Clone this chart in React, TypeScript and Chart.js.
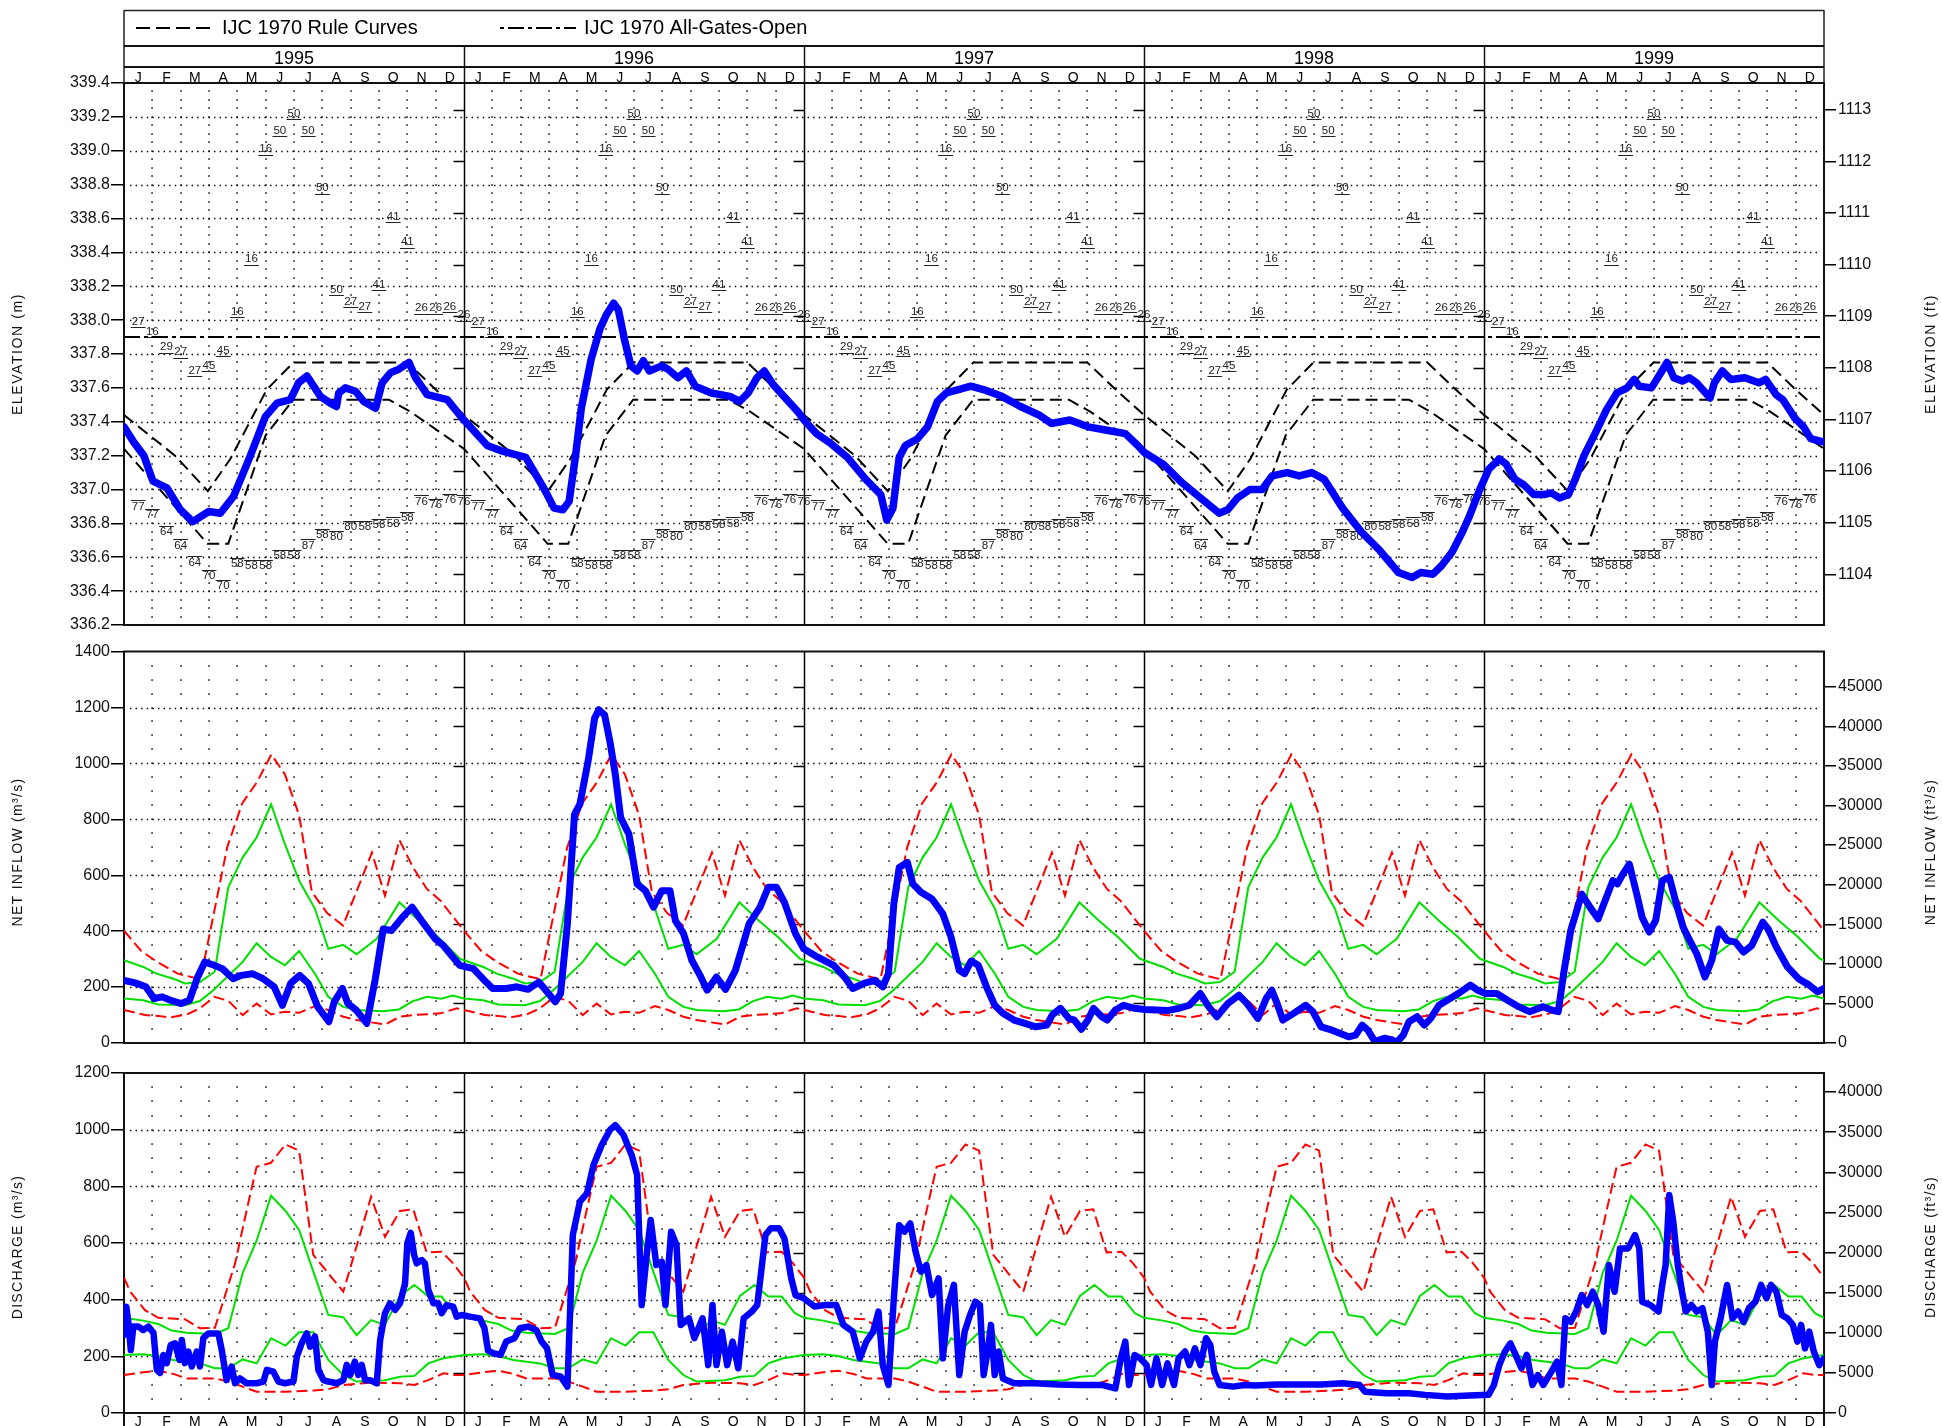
import React, { useEffect, useRef } from 'react';
import { Chart, registerables } from 'chart.js';

Chart.register(...registerables);

const FONT = '"Liberation Sans", Arial, Helvetica, sans-serif';
const W = 1942;

// ---------- categories / labels ----------
const years = ['1995', '1996', '1997', '1998', '1999'];
const monthLetters = ['J', 'F', 'M', 'A', 'M', 'J', 'J', 'A', 'S', 'O', 'N', 'D'];

const M_TO_FT = 3.28084;
const CMS_TO_CFS = 35.3147;

// ---------- tick labels ----------
const elevTicksM = [336.2, 336.4, 336.6, 336.8, 337.0, 337.2, 337.4, 337.6, 337.8, 338.0, 338.2, 338.4, 338.6, 338.8, 339.0, 339.2, 339.4];
const elevTicksFt = [1104, 1105, 1106, 1107, 1108, 1109, 1110, 1111, 1112, 1113];
const inflowTicks = [0, 200, 400, 600, 800, 1000, 1200, 1400];
const inflowTicksFt = [0, 5000, 10000, 15000, 20000, 25000, 30000, 35000, 40000, 45000];
const dischargeTicks = [0, 200, 400, 600, 800, 1000, 1200];
const dischargeTicksFt = [0, 5000, 10000, 15000, 20000, 25000, 30000, 35000, 40000];

// ---------- IJC 1970 rule curves (one year, month-of-year, m) ----------
const ruleUpper = [[0, 337.44], [1.8, 337.2], [2.96, 336.99], [3.75, 337.18], [5.04, 337.59], [5.98, 337.75], [10.0, 337.75], [11.0, 337.59], [12, 337.44]];
const ruleLower = [[0, 337.24], [2.95, 336.68], [3.68, 336.68], [5.0, 337.32], [5.97, 337.53], [9.35, 337.53], [10.1, 337.46], [12, 337.24]];
const allGatesOpen = [[0, 337.9], [60, 337.9]];

// ---------- quarter-month codes on elevation panel ----------
const upperCodes = ['27', '16', '29', '27', '27', '45', '45', '16', '16', '16', '50', '50', '50', '50', '50', '27', '27', '41', '41', '41', '26', '26', '26', '26'];
const upperLevels = [337.99, 337.93, 337.84, 337.81, 337.7, 337.73, 337.82, 338.05, 338.36, 339.01, 339.12, 339.22, 339.12, 338.78, 338.18, 338.11, 338.08, 338.21, 338.61, 338.46, 338.07, 338.07, 338.08, 338.03];
const lowerCodes = ['77', '77', '64', '64', '64', '70', '70', '58', '58', '58', '58', '58', '87', '58', '80', '80', '58', '58', '58', '58', '76', '76', '76', '76'];
const lowerLevels = [336.9, 336.85, 336.75, 336.67, 336.57, 336.49, 336.43, 336.56, 336.55, 336.55, 336.61, 336.61, 336.67, 336.73, 336.72, 336.78, 336.78, 336.79, 336.8, 336.83, 336.93, 336.91, 336.94, 336.93];

// ---------- observed elevation (month-of-year, m) ----------
const elev1995 = [[0, 337.37], [0.34, 337.28], [0.7, 337.2], [1.02, 337.05], [1.51, 337.01], [1.99, 336.88], [2.43, 336.81], [2.99, 336.87], [3.4, 336.86], [3.87, 336.96], [4.46, 337.2], [4.99, 337.43], [5.4, 337.51], [5.87, 337.53], [6.16, 337.63], [6.46, 337.67], [6.93, 337.55], [7.28, 337.51], [7.5, 337.49], [7.58, 337.57], [7.81, 337.6], [8.17, 337.58], [8.46, 337.52], [8.88, 337.48], [9.11, 337.63], [9.41, 337.69], [9.7, 337.71], [10.06, 337.75], [10.29, 337.66], [10.7, 337.56], [11.41, 337.53], [11.7, 337.47]];
const elev1996 = [[0, 337.41], [0.82, 337.26], [1.29, 337.23], [2.18, 337.19], [2.84, 337.0], [3.18, 336.89], [3.49, 336.88], [3.71, 336.93], [3.93, 337.19], [4.14, 337.48], [4.49, 337.77], [4.8, 337.95], [5.02, 338.03], [5.28, 338.1], [5.45, 338.06], [5.67, 337.88], [5.89, 337.73], [6.11, 337.7], [6.33, 337.76], [6.54, 337.7], [6.98, 337.73], [7.2, 337.71], [7.55, 337.66], [7.85, 337.7], [8.16, 337.61], [8.73, 337.57], [9.38, 337.55], [9.73, 337.52], [10.03, 337.57], [10.34, 337.66], [10.6, 337.7], [10.91, 337.62], [11.34, 337.54], [11.78, 337.46]];
const elev1997 = [[0, 337.41], [0.44, 337.33], [0.96, 337.27], [1.53, 337.19], [2.18, 337.06], [2.71, 336.97], [2.92, 336.82], [3.14, 336.89], [3.36, 337.19], [3.58, 337.26], [4.01, 337.3], [4.36, 337.37], [4.71, 337.52], [5.02, 337.57], [5.45, 337.59], [5.89, 337.61], [6.33, 337.59], [6.98, 337.55], [7.64, 337.49], [8.29, 337.44], [8.73, 337.39], [9.38, 337.41], [10.03, 337.37], [10.69, 337.35], [11.34, 337.33], [11.78, 337.26]];
const elev1998 = [[0, 337.22], [0.68, 337.15], [1.34, 337.04], [1.99, 336.95], [2.65, 336.86], [2.95, 336.88], [3.3, 336.95], [3.74, 337.0], [4.17, 337.0], [4.52, 337.08], [5.05, 337.1], [5.48, 337.08], [5.92, 337.1], [6.36, 337.06], [7.01, 336.89], [7.67, 336.75], [8.32, 336.64], [8.98, 336.51], [9.46, 336.48], [9.77, 336.51], [10.2, 336.5], [10.5, 336.55], [10.87, 336.63], [11.24, 336.75], [11.48, 336.84], [11.85, 337.0]];
const elev1999 = [[0.17, 337.12], [0.54, 337.18], [0.78, 337.15], [1.09, 337.06], [1.39, 337.03], [1.76, 336.97], [2.12, 336.97], [2.37, 336.98], [2.67, 336.95], [2.98, 336.97], [3.22, 337.06], [3.53, 337.2], [3.95, 337.34], [4.32, 337.47], [4.69, 337.57], [5.05, 337.6], [5.3, 337.65], [5.48, 337.61], [5.91, 337.6], [6.21, 337.68], [6.46, 337.75], [6.7, 337.66], [7.0, 337.64], [7.25, 337.66], [7.5, 337.63], [7.98, 337.54], [8.13, 337.63], [8.41, 337.7], [8.71, 337.65], [9.21, 337.66], [9.7, 337.63], [9.94, 337.65], [10.31, 337.56], [10.55, 337.53], [10.98, 337.42], [11.28, 337.37], [11.53, 337.3], [12, 337.28]];

// ---------- net inflow statistics (one year, m3/s) ----------
const inflowMax = [[0, 402], [0.6, 330], [1.17, 290], [1.9, 248], [2.7, 228], [3.64, 699], [4.17, 857], [4.7, 934], [5.2, 1032], [5.68, 961], [6.18, 815], [6.63, 540], [7.17, 465], [7.73, 420], [8.75, 681], [9.21, 527], [9.72, 726], [10.2, 628], [10.69, 551], [11.17, 509], [12, 402]];
const inflowUpper = [[0, 296], [0.68, 272], [1.15, 248], [1.74, 230], [2.15, 213], [2.68, 218], [3.2, 255], [3.68, 557], [4.19, 664], [4.68, 735], [5.19, 854], [5.68, 711], [6.18, 581], [6.74, 480], [7.21, 337], [7.74, 351], [8.21, 317], [8.92, 373], [9.72, 503], [10.4, 438], [11.08, 379], [11.85, 302], [12, 296]];
const inflowLower = [[0, 159], [0.68, 153], [1.21, 138], [2.15, 135], [2.68, 150], [3.15, 189], [4.19, 290], [4.68, 357], [5.19, 308], [5.68, 278], [6.18, 329], [6.74, 248], [7.21, 165], [7.74, 129], [8.21, 118], [9.15, 114], [9.7, 120], [10.2, 150], [10.7, 165], [11.2, 158], [11.6, 170], [12, 159]];
const inflowMin = [[0, 118], [0.74, 100], [1.21, 97], [1.62, 91], [2.21, 102], [2.68, 124], [3.19, 165], [3.68, 151], [4.19, 100], [4.68, 141], [5.19, 102], [5.68, 112], [6.18, 108], [6.74, 132], [7.21, 118], [7.74, 94], [8.21, 82], [9.21, 66], [9.74, 94], [10.2, 100], [11.17, 106], [11.75, 124], [12, 118]];

// ---------- observed net inflow (month-of-year, m3/s) ----------
const inflow1995 = [[0, 224], [0.39, 215], [0.77, 201], [1.06, 159], [1.35, 165], [1.64, 153], [2.02, 141], [2.31, 153], [2.6, 236], [2.85, 290], [3.18, 278], [3.47, 266], [3.85, 230], [4.14, 242], [4.53, 248], [4.91, 230], [5.3, 201], [5.59, 135], [5.88, 213], [6.2, 242], [6.51, 213], [6.84, 129], [7.23, 76], [7.42, 147], [7.71, 195], [7.9, 141], [8.19, 118], [8.57, 70], [8.86, 224], [9.15, 408], [9.44, 402], [9.83, 450], [10.17, 486], [10.5, 438], [10.98, 373], [11.27, 349], [11.56, 313], [11.85, 278]];
const inflow1996 = [[0.33, 266], [0.72, 224], [1.01, 195], [1.49, 195], [1.87, 201], [2.26, 192], [2.64, 218], [2.93, 183], [3.22, 147], [3.41, 177], [3.65, 426], [3.9, 818], [4.09, 854], [4.38, 1008], [4.61, 1162], [4.76, 1192], [4.96, 1174], [5.15, 1079], [5.34, 961], [5.53, 806], [5.82, 747], [6.11, 569], [6.4, 545], [6.69, 486], [6.98, 545], [7.27, 545], [7.46, 438], [7.75, 391], [8.04, 296], [8.33, 242], [8.58, 189], [8.91, 236], [9.23, 192], [9.58, 260], [10.06, 426], [10.45, 486], [10.74, 557], [11.03, 557], [11.31, 503], [11.7, 391], [11.99, 337]];
const inflow1997 = [[0.47, 308], [1.05, 278], [1.43, 236], [1.72, 195], [2.11, 213], [2.49, 224], [2.78, 201], [2.98, 248], [3.17, 497], [3.36, 628], [3.65, 646], [3.84, 569], [4.13, 539], [4.52, 515], [4.9, 462], [5.19, 379], [5.48, 260], [5.67, 248], [5.9, 293], [6.15, 278], [6.44, 201], [6.73, 135], [7.02, 106], [7.41, 82], [7.8, 70], [8.18, 58], [8.57, 64], [8.76, 100], [9.05, 124], [9.35, 88], [9.54, 82], [9.79, 49], [10.02, 82], [10.22, 124], [10.51, 94], [10.7, 82], [10.99, 118], [11.28, 135], [11.67, 124]];
const inflow1998 = [[0.02, 120], [0.44, 118], [0.83, 116], [1.22, 124], [1.6, 135], [1.99, 177], [2.28, 130], [2.57, 94], [2.96, 141], [3.35, 171], [3.64, 141], [4.02, 88], [4.31, 159], [4.51, 189], [4.7, 141], [4.9, 82], [5.28, 106], [5.71, 135], [5.96, 112], [6.25, 58], [6.64, 46], [7.22, 22], [7.47, 28], [7.7, 64], [7.9, 46], [8.15, 5], [8.48, 17], [8.77, 11], [8.92, 2], [9.15, 28], [9.35, 76], [9.64, 94], [9.89, 64], [10.12, 88], [10.41, 135], [10.7, 153], [11.09, 177], [11.52, 207], [11.77, 189]];
const inflow1999 = [[0.06, 177], [0.45, 177], [0.83, 153], [1.22, 130], [1.61, 112], [2.09, 130], [2.38, 118], [2.62, 112], [2.81, 248], [3.06, 402], [3.45, 533], [3.74, 486], [4.03, 444], [4.32, 521], [4.55, 581], [4.71, 569], [4.9, 604], [5.13, 640], [5.39, 533], [5.58, 450], [5.83, 397], [6.06, 438], [6.29, 581], [6.54, 593], [6.79, 497], [7.03, 414], [7.26, 367], [7.51, 319], [7.8, 236], [8.04, 296], [8.29, 408], [8.58, 367], [8.87, 361], [9.16, 325], [9.45, 349], [9.84, 432], [10.03, 408], [10.32, 343], [10.71, 272], [11.1, 230], [11.48, 207], [11.77, 183], [12, 195]];

// ---------- discharge statistics (one year, m3/s) ----------
const dischargeMax = [[0, 478], [0.22, 428], [0.74, 363], [1.21, 336], [2.15, 331], [2.68, 299], [3.21, 301], [3.92, 528], [4.33, 716], [4.68, 869], [5.19, 883], [5.7, 948], [6.18, 926], [6.68, 558], [7.21, 493], [7.74, 428], [8.72, 763], [9.21, 622], [9.74, 713], [10.21, 719], [10.68, 567], [11.21, 569], [11.6, 530], [12, 478]];
const dischargeUpper = [[0, 336], [0.68, 326], [1.21, 314], [1.68, 291], [2.21, 283], [3.21, 279], [3.68, 299], [4.19, 495], [4.68, 608], [5.19, 767], [5.7, 713], [6.18, 646], [6.68, 500], [7.21, 346], [7.74, 338], [8.21, 275], [8.72, 328], [9.21, 311], [9.74, 413], [10.25, 452], [10.74, 411], [11.21, 411], [11.68, 352], [12, 336]];
const dischargeLower = [[0, 205], [0.68, 207], [1.21, 201], [1.74, 187], [2.68, 175], [3.21, 158], [3.68, 158], [4.19, 189], [4.68, 175], [5.19, 264], [5.7, 238], [6.18, 285], [6.68, 285], [7.21, 187], [7.74, 134], [8.21, 111], [9.21, 116], [9.74, 128], [10.25, 131], [10.74, 175], [11.27, 193], [12, 205]];
const dischargeMin = [[0, 134], [0.68, 144], [1.21, 149], [1.74, 138], [2.21, 122], [3.21, 122], [3.68, 111], [4.19, 93], [4.68, 75], [5.7, 75], [6.68, 79], [7.21, 84], [7.74, 99], [8.72, 107], [9.74, 105], [10.25, 99], [10.74, 116], [11.27, 140], [11.68, 134], [12, 134]];

// ---------- observed discharge (month-of-year, m3/s) ----------
const discharge1995 = [[0, 275], [0.08, 375], [0.16, 316], [0.24, 222], [0.33, 305], [0.51, 305], [0.68, 293], [0.86, 305], [1.04, 283], [1.16, 152], [1.27, 141], [1.39, 205], [1.51, 176], [1.65, 240], [1.8, 246], [1.96, 187], [2.04, 258], [2.15, 176], [2.27, 217], [2.39, 164], [2.57, 217], [2.68, 164], [2.8, 264], [2.98, 281], [3.15, 281], [3.33, 281], [3.45, 222], [3.62, 116], [3.8, 164], [3.92, 105], [4.09, 122], [4.33, 105], [4.68, 105], [4.92, 111], [5.04, 152], [5.27, 146], [5.45, 111], [5.68, 105], [5.98, 111], [6.1, 199], [6.27, 246], [6.45, 281], [6.57, 234], [6.74, 270], [6.86, 152], [7.04, 116], [7.21, 111], [7.51, 105], [7.74, 116], [7.86, 170], [7.98, 134], [8.15, 181], [8.27, 134], [8.39, 170], [8.51, 116], [8.68, 116], [8.92, 105], [9.04, 258], [9.21, 352], [9.39, 387], [9.57, 364], [9.74, 387], [9.92, 458], [10.0, 599], [10.12, 636], [10.24, 558], [10.33, 528], [10.51, 540], [10.62, 528], [10.74, 434], [10.92, 387], [11.09, 387], [11.21, 352], [11.39, 381], [11.62, 375], [11.74, 340], [11.92, 346]];
const discharge1996 = [[0.21, 340], [0.56, 334], [0.72, 300], [0.85, 220], [1.03, 211], [1.29, 205], [1.49, 252], [1.78, 264], [1.97, 299], [2.26, 305], [2.55, 293], [2.74, 252], [2.93, 229], [3.13, 134], [3.41, 129], [3.65, 93], [3.84, 628], [4.09, 746], [4.34, 775], [4.57, 875], [4.86, 946], [5.15, 999], [5.34, 1016], [5.63, 981], [5.92, 910], [6.11, 840], [6.27, 381], [6.46, 569], [6.59, 681], [6.79, 522], [6.98, 534], [7.11, 381], [7.31, 640], [7.5, 593], [7.65, 311], [7.94, 334], [8.13, 264], [8.42, 334], [8.62, 169], [8.77, 381], [8.91, 169], [9.1, 287], [9.29, 169], [9.48, 252], [9.68, 158], [9.87, 334], [10.16, 358], [10.35, 381], [10.64, 628], [10.83, 652], [11.12, 652], [11.31, 616], [11.55, 475], [11.7, 416], [11.99, 405]];
const discharge1997 = [[0.37, 376], [0.76, 381], [1.14, 381], [1.39, 311], [1.72, 287], [1.97, 193], [2.2, 252], [2.44, 287], [2.63, 358], [2.78, 169], [2.98, 99], [3.17, 405], [3.36, 663], [3.55, 640], [3.75, 669], [3.94, 569], [4.13, 499], [4.32, 522], [4.52, 416], [4.75, 475], [4.9, 193], [5.09, 381], [5.29, 452], [5.48, 134], [5.67, 287], [5.86, 346], [6.05, 393], [6.21, 381], [6.34, 134], [6.48, 217], [6.6, 311], [6.73, 134], [6.87, 217], [7.02, 122], [7.41, 105], [8.18, 105], [8.96, 101], [9.73, 99], [10.51, 99], [10.99, 87], [11.18, 193], [11.34, 252], [11.47, 99], [11.67, 205], [11.86, 193]];
const discharge1998 = [[0.09, 169], [0.25, 99], [0.44, 193], [0.64, 99], [0.83, 175], [1.06, 99], [1.22, 193], [1.45, 217], [1.6, 169], [1.8, 228], [1.99, 169], [2.19, 264], [2.34, 240], [2.48, 146], [2.67, 99], [3.15, 93], [3.54, 99], [3.93, 97], [4.7, 101], [5.48, 101], [6.25, 101], [7.03, 105], [7.61, 99], [7.8, 75], [8.57, 70], [9.35, 70], [9.93, 64], [10.7, 58], [11.48, 62]];
const discharge1999 = [[0.16, 64], [0.35, 99], [0.54, 169], [0.74, 217], [0.93, 246], [1.12, 205], [1.32, 158], [1.51, 205], [1.71, 99], [1.9, 134], [2.09, 99], [2.38, 146], [2.58, 181], [2.73, 99], [2.87, 334], [3.06, 322], [3.25, 358], [3.45, 416], [3.64, 381], [3.84, 428], [4.03, 381], [4.22, 287], [4.41, 522], [4.61, 428], [4.8, 581], [5.09, 581], [5.33, 628], [5.48, 581], [5.58, 393], [5.87, 381], [6.16, 358], [6.29, 452], [6.41, 522], [6.54, 769], [6.68, 675], [6.84, 522], [6.99, 428], [7.12, 358], [7.32, 381], [7.51, 358], [7.71, 370], [7.9, 287], [8.04, 99], [8.15, 252], [8.35, 334], [8.58, 452], [8.77, 334], [8.97, 358], [9.16, 322], [9.35, 370], [9.58, 393], [9.78, 452], [9.97, 405], [10.13, 452], [10.32, 428], [10.51, 346], [10.71, 334], [10.9, 311], [11.06, 252], [11.19, 311], [11.33, 228], [11.48, 287], [11.64, 217], [11.83, 169], [12, 193]];

// ---------- helpers ----------
type Pt = number[];
function repeatAnnual(annual: Pt[]) {
  const out: { x: number; y: number }[] = [];
  years.forEach((_, i) => annual.forEach(([m, v]) => out.push({ x: i * 12 + m, y: v })));
  return out;
}
function joinYears(parts: Pt[][]) {
  const out: { x: number; y: number }[] = [];
  parts.forEach((arr, i) => arr.forEach(([m, v]) => out.push({ x: i * 12 + m, y: v })));
  return out;
}
function toXY(arr: Pt[]) {
  return arr.map(([x, y]) => ({ x, y }));
}
const blueLine = (data: any[], w: number) => ({
  data, borderColor: '#0000ff', borderWidth: w, borderJoinStyle: 'round', borderCapStyle: 'round',
  pointRadius: 0, fill: false, order: 0,
});
const styledLine = (data: any[], color: string, dash: number[], w = 2) => ({
  data, borderColor: color, borderWidth: w, borderDash: dash, pointRadius: 0, fill: false, order: 1,
});
const RED = '#ff0000';
const GREEN = '#00e000';

function drawVTitle(ctx: CanvasRenderingContext2D, text: string, x: number, y: number, spacing: string) {
  ctx.save();
  ctx.translate(x, y);
  ctx.rotate(-Math.PI / 2);
  ctx.font = `14px ${FONT}`;
  ctx.fillStyle = '#111';
  ctx.textAlign = 'center';
  ctx.textBaseline = 'middle';
  (ctx as any).letterSpacing = spacing;
  ctx.fillText(text, 0, 0);
  ctx.restore();
}

type PanelSpec = {
  key: string; top: number; height: number; pad: { top: number; bottom: number };
  min: number; max: number; minor: number; ticks: number[]; ticksR: number[]; conv: number;
  leftTitle: string; rightTitle: string; titleY: number; spacing: string;
  fmt: (v: number) => string; datasets: any[]; header?: boolean; footer?: boolean; codes?: boolean;
};

function decorPlugin(p: PanelSpec) {
  return {
    id: 'decor_' + p.key,
    beforeDatasetsDraw(chart: any) {
      const { ctx, chartArea: a, scales } = chart;
      const xs = scales.x, ys = scales.y, y2 = scales.y2;
      ctx.save();
      // horizontal dotted grid lines
      ctx.strokeStyle = '#000';
      ctx.lineWidth = 1.4;
      ctx.setLineDash([1.4, 4.2]);
      p.ticks.forEach((v) => {
        if (v <= p.min + 1e-9 || v >= p.max - 1e-9) return;
        const y = Math.round(ys.getPixelForValue(v)) + 0.5;
        ctx.beginPath();
        ctx.moveTo(a.left + 6, y);
        ctx.lineTo(a.right - 4, y);
        ctx.stroke();
      });
      ctx.setLineDash([]);
      // vertical dotted month boundaries
      ctx.fillStyle = '#000';
      const n = Math.round((p.max - p.min) / p.minor);
      for (let m = 1; m < 60; m++) {
        if (m % 12 === 0) continue;
        const x = Math.round(xs.getPixelForValue(m));
        for (let k = 1; k < n; k++) {
          const y = Math.round(ys.getPixelForValue(p.min + k * p.minor));
          ctx.fillRect(x - 0.7, y - 0.7, 1.5, 1.5);
        }
      }
      // year separators + inner right-axis ticks
      ctx.strokeStyle = '#000';
      ctx.lineWidth = 1.5;
      for (let i = 1; i < 5; i++) {
        const x = Math.round(xs.getPixelForValue(12 * i)) + 0.5;
        ctx.beginPath();
        ctx.moveTo(x, a.top);
        ctx.lineTo(x, p.footer ? chart.height : a.bottom);
        ctx.stroke();
        p.ticksR.forEach((v) => {
          const y = Math.round(y2.getPixelForValue(v)) + 0.5;
          if (y <= a.top + 2 || y >= a.bottom - 2) return;
          ctx.beginPath();
          ctx.moveTo(x - 11, y);
          ctx.lineTo(x, y);
          ctx.stroke();
        });
      }
      // quarter-month code labels
      if (p.codes) {
        ctx.font = `11.5px ${FONT}`;
        ctx.fillStyle = '#222';
        ctx.strokeStyle = '#222';
        ctx.lineWidth = 1;
        ctx.textAlign = 'center';
        ctx.textBaseline = 'middle';
        years.forEach((_, yi) => {
          for (let k = 0; k < 24; k++) {
            const m = yi * 12 + (k + 1) * 0.5;
            if (m >= 60) continue;
            const x = xs.getPixelForValue(m);
            const w = ctx.measureText(upperCodes[k]).width;
            const yu = ys.getPixelForValue(upperLevels[k]);
            ctx.fillText(upperCodes[k], x, yu);
            ctx.beginPath();
            ctx.moveTo(x - w / 2 - 1, Math.round(yu + 5.5) + 0.5);
            ctx.lineTo(x + w / 2 + 1, Math.round(yu + 5.5) + 0.5);
            ctx.stroke();
            const wl = ctx.measureText(lowerCodes[k]).width;
            const yl = ys.getPixelForValue(lowerLevels[k]);
            ctx.fillText(lowerCodes[k], x, yl);
            ctx.beginPath();
            ctx.moveTo(x - wl / 2 - 1, Math.round(yl - 6) + 0.5);
            ctx.lineTo(x + wl / 2 + 1, Math.round(yl - 6) + 0.5);
            ctx.stroke();
          }
        });
      }
      ctx.restore();
    },
    afterDraw(chart: any) {
      const { ctx, chartArea: a, scales } = chart;
      const xs = scales.x;
      ctx.save();
      ctx.strokeStyle = '#111';
      ctx.lineWidth = 2;
      // top & bottom borders
      [a.top, a.bottom].forEach((y: number) => {
        ctx.beginPath();
        ctx.moveTo(a.left - 1, y);
        ctx.lineTo(a.right + 1, y);
        ctx.stroke();
      });
      // titles
      drawVTitle(ctx, p.leftTitle, 18, p.titleY, p.spacing);
      drawVTitle(ctx, p.rightTitle, 1931, p.titleY, p.spacing);

      if (p.header) {
        const L = a.left, R = a.right;
        ctx.strokeStyle = '#222';
        ctx.lineWidth = 1.5;
        ctx.beginPath();
        ctx.moveTo(L, 10.5); ctx.lineTo(R, 10.5);
        ctx.moveTo(L, 10); ctx.lineTo(L, a.top);
        ctx.moveTo(R, 10); ctx.lineTo(R, a.top);
        ctx.stroke();
        ctx.strokeStyle = '#111';
        ctx.lineWidth = 2;
        [46, 67].forEach((y) => {
          ctx.beginPath();
          ctx.moveTo(L, y); ctx.lineTo(R, y);
          ctx.stroke();
        });
        ctx.lineWidth = 1.5;
        for (let i = 1; i < 5; i++) {
          const x = Math.round(xs.getPixelForValue(12 * i)) + 0.5;
          ctx.beginPath();
          ctx.moveTo(x, 46); ctx.lineTo(x, a.top);
          ctx.stroke();
        }
        // legend
        ctx.lineWidth = 2;
        ctx.strokeStyle = '#000';
        ctx.setLineDash([14, 6]);
        ctx.beginPath(); ctx.moveTo(136, 28); ctx.lineTo(212, 28); ctx.stroke();
        ctx.setLineDash([4, 4, 16, 4]);
        ctx.beginPath(); ctx.moveTo(500, 28); ctx.lineTo(576, 28); ctx.stroke();
        ctx.setLineDash([]);
        ctx.fillStyle = '#000';
        ctx.font = `20px ${FONT}`;
        ctx.textAlign = 'left';
        ctx.textBaseline = 'middle';
        ctx.fillText('IJC 1970 Rule Curves', 222, 28);
        ctx.fillText('IJC 1970 All-Gates-Open', 584, 28);
        // years
        ctx.font = `18px ${FONT}`;
        ctx.textAlign = 'center';
        ctx.textBaseline = 'alphabetic';
        years.forEach((yr, i) => {
          const xc = (xs.getPixelForValue(12 * i) + xs.getPixelForValue(12 * i + 12)) / 2;
          ctx.fillText(yr, xc, 64);
        });
        // months
        ctx.font = `14px ${FONT}`;
        years.forEach((_, i) => {
          monthLetters.forEach((ml, j) => {
            ctx.fillText(ml, xs.getPixelForValue(12 * i + j + 0.5), 81.5);
          });
        });
      }
      if (p.footer) {
        ctx.strokeStyle = '#111';
        ctx.lineWidth = 2;
        ctx.beginPath();
        ctx.moveTo(a.left, a.bottom); ctx.lineTo(a.left, chart.height);
        ctx.moveTo(a.right, a.bottom); ctx.lineTo(a.right, chart.height);
        ctx.stroke();
        ctx.fillStyle = '#000';
        ctx.font = `14px ${FONT}`;
        ctx.textAlign = 'center';
        ctx.textBaseline = 'alphabetic';
        years.forEach((_, i) => {
          monthLetters.forEach((ml, j) => {
            ctx.fillText(ml, xs.getPixelForValue(12 * i + j + 0.5), a.bottom + 13);
          });
        });
      }
      ctx.restore();
    },
  };
}

function makeConfig(p: PanelSpec) {
  const axisCommon = {
    grid: { drawOnChartArea: false, drawTicks: true, color: '#000', lineWidth: 1.5 },
    border: { display: true, color: '#111', width: 2 },
  };
  return {
    type: 'line',
    data: { datasets: p.datasets },
    options: {
      animation: false,
      responsive: false,
      maintainAspectRatio: false,
      devicePixelRatio: 1,
      events: [],
      layout: { padding: { top: p.pad.top, bottom: p.pad.bottom, left: 0, right: 0 } },
      plugins: { legend: { display: false }, tooltip: { enabled: false }, title: { display: false } },
      elements: { point: { radius: 0 }, line: { tension: 0 } },
      scales: {
        x: { type: 'linear', min: 0, max: 60, display: false },
        y: {
          type: 'linear', position: 'left', min: p.min, max: p.max,
          afterFit: (s: any) => { s.width = 124; },
          afterBuildTicks: (s: any) => { s.ticks = p.ticks.map((v) => ({ value: v })); },
          ticks: { font: { family: FONT, size: 16 }, color: '#111', padding: 1, callback: (v: number) => p.fmt(Number(v)) },
          ...axisCommon,
          grid: { ...axisCommon.grid, tickLength: 13 },
        },
        y2: {
          type: 'linear', position: 'right', min: p.min * p.conv, max: p.max * p.conv,
          afterFit: (s: any) => { s.width = 118; },
          afterBuildTicks: (s: any) => { s.ticks = p.ticksR.map((v) => ({ value: v })); },
          ticks: { font: { family: FONT, size: 16 }, color: '#111', padding: 2, callback: (v: number) => String(v) },
          ...axisCommon,
          grid: { ...axisCommon.grid, tickLength: 12 },
        },
      },
    },
    plugins: [decorPlugin(p)],
  };
}

const panels: PanelSpec[] = [
  {
    key: 'elev', top: 0, height: 640, pad: { top: 83, bottom: 15 },
    min: 336.2, max: 339.4, minor: 0.05, ticks: elevTicksM, ticksR: elevTicksFt, conv: M_TO_FT,
    leftTitle: 'ELEVATION (m)', rightTitle: 'ELEVATION (ft)', titleY: 354, spacing: '1.6px',
    fmt: (v) => v.toFixed(1), header: true, codes: true,
    datasets: [
      blueLine(joinYears([elev1995, elev1996, elev1997, elev1998, elev1999]), 7.5),
      styledLine(repeatAnnual(ruleUpper), '#000', [12, 6], 2),
      styledLine(repeatAnnual(ruleLower), '#000', [12, 6], 2),
      styledLine(toXY(allGatesOpen), '#000', [16, 4, 4, 4], 2),
    ],
  },
  {
    key: 'inflow', top: 640, height: 415, pad: { top: 10, bottom: 12 },
    min: 0, max: 1400, minor: 50, ticks: inflowTicks, ticksR: inflowTicksFt, conv: CMS_TO_CFS,
    leftTitle: 'NET INFLOW (m³/s)', rightTitle: 'NET INFLOW (ft³/s)', titleY: 212, spacing: '1.3px',
    fmt: (v) => String(v),
    datasets: [
      blueLine(joinYears([inflow1995, inflow1996, inflow1997, inflow1998, inflow1999]), 7),
      styledLine(repeatAnnual(inflowMax), RED, [11, 5], 2),
      styledLine(repeatAnnual(inflowUpper), GREEN, [], 2),
      styledLine(repeatAnnual(inflowLower), GREEN, [], 2),
      styledLine(repeatAnnual(inflowMin), RED, [11, 5], 2),
    ],
  },
  {
    key: 'discharge', top: 1055, height: 371, pad: { top: 18, bottom: 13 },
    min: 0, max: 1200, minor: 50, ticks: dischargeTicks, ticksR: dischargeTicksFt, conv: CMS_TO_CFS,
    leftTitle: 'DISCHARGE (m³/s)', rightTitle: 'DISCHARGE (ft³/s)', titleY: 192, spacing: '1.3px',
    fmt: (v) => String(v), footer: true,
    datasets: [
      blueLine(joinYears([discharge1995, discharge1996, discharge1997, discharge1998, discharge1999]), 6.5),
      styledLine(repeatAnnual(dischargeMax), RED, [11, 5], 2),
      styledLine(repeatAnnual(dischargeUpper), GREEN, [], 2),
      styledLine(repeatAnnual(dischargeLower), GREEN, [], 2),
      styledLine(repeatAnnual(dischargeMin), RED, [11, 5], 2),
    ],
  },
];

export default function App() {
  const r0 = useRef<HTMLCanvasElement>(null);
  const r1 = useRef<HTMLCanvasElement>(null);
  const r2 = useRef<HTMLCanvasElement>(null);
  const refs = [r0, r1, r2];

  useEffect(() => {
    const charts = panels.map((p, i) => {
      const c = refs[i].current as HTMLCanvasElement;
      return new Chart(c, makeConfig(p) as any);
    });
    return () => charts.forEach((c) => c.destroy());
  }, []);

  return (
    <div style={{ position: 'absolute', left: 0, top: 0, width: W, height: 1426, background: '#fff', overflow: 'hidden' }}>
      {panels.map((p, i) => (
        <canvas
          key={p.key}
          ref={refs[i]}
          width={W}
          height={p.height}
          style={{ position: 'absolute', left: 0, top: p.top, width: W, height: p.height, display: 'block' }}
        />
      ))}
    </div>
  );
}
